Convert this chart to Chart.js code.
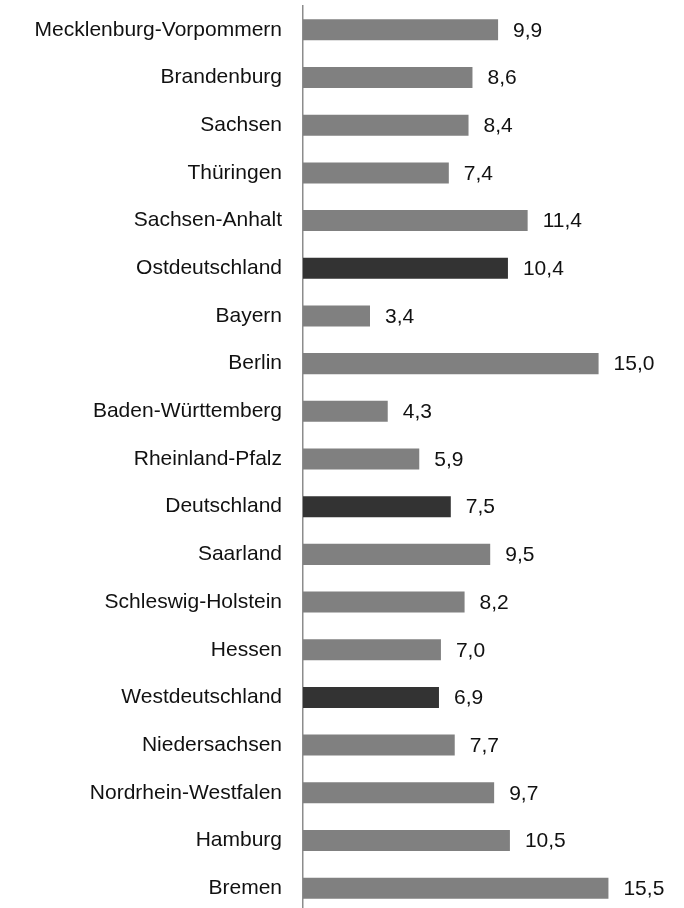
<!DOCTYPE html>
<html lang="de">
<head>
    <meta charset="UTF-8">
    <title>Bundesländer</title>
    <script src="https://cdn.jsdelivr.net/npm/chart.js@4"></script>
    <style>
        html, body { margin: 0; padding: 0; background: #fff; overflow: hidden; }
        canvas { display: block; }
    </style>
</head>
<body>
    <canvas id="barChart" width="684" height="912"></canvas>

    <script>
        const regions = [
            'Mecklenburg-Vorpommern', 'Brandenburg', 'Sachsen', 'Thüringen', 'Sachsen-Anhalt',
            'Ostdeutschland', 'Bayern', 'Berlin', 'Baden-Württemberg', 'Rheinland-Pfalz',
            'Deutschland', 'Saarland', 'Schleswig-Holstein', 'Hessen', 'Westdeutschland',
            'Niedersachsen', 'Nordrhein-Westfalen', 'Hamburg', 'Bremen'
        ];
        const values = [9.9, 8.6, 8.4, 7.4, 11.4, 10.4, 3.4, 15.0, 4.3, 5.9,
                        7.5, 9.5, 8.2, 7.0, 6.9, 7.7, 9.7, 10.5, 15.5];
        // aggregates are drawn darker
        const aggregates = ['Ostdeutschland', 'Deutschland', 'Westdeutschland'];

        const fmt = v => v.toFixed(1).replace('.', ',');

        // value labels right of each bar
        const valueLabels = {
            id: 'valueLabels',
            afterDatasetsDraw(chart) {
                const ctx = chart.ctx;
                const meta = chart.getDatasetMeta(0);
                ctx.save();
                ctx.font = '21px "Liberation Sans", Arial, sans-serif';
                ctx.fillStyle = '#111';
                ctx.textBaseline = 'middle';
                ctx.textAlign = 'left';
                meta.data.forEach((bar, i) => {
                    ctx.fillText(fmt(values[i]), bar.x + 15, bar.y + 1);
                });
                ctx.restore();
            }
        };

        new Chart(document.getElementById('barChart'), {
            type: 'bar',
            data: {
                labels: regions,
                datasets: [{
                    data: values,
                    backgroundColor: regions.map(r => aggregates.includes(r) ? '#333333' : '#808080'),
                    barPercentage: 0.9,
                    categoryPercentage: 0.49
                }]
            },
            options: {
                indexAxis: 'y',
                responsive: false,
                animation: false,
                layout: { padding: { top: 6, right: 46, bottom: 0, left: 0 } },
                plugins: {
                    legend: { display: false },
                    tooltip: { enabled: false }
                },
                scales: {
                    x: {
                        display: false,
                        min: 0,
                        max: 17
                    },
                    y: {
                        grid: { display: false },
                        border: { display: true, color: '#8c8c8c', width: 1.5 },
                        ticks: {
                            color: '#111',
                            padding: 13,
                            font: { family: '"Liberation Sans", Arial, sans-serif', size: 21 }
                        },
                        afterFit(axis) {
                            axis.width = 303;
                            axis.paddingTop = 0;
                            axis.paddingBottom = 0;
                        }
                    }
                }
            },
            plugins: [valueLabels]
        });
    </script>
</body>
</html>
